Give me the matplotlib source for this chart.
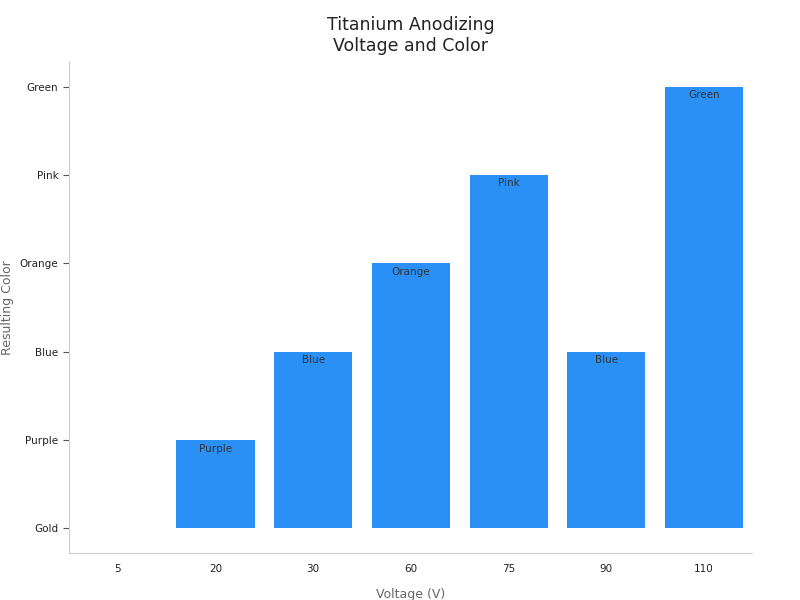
import matplotlib
matplotlib.use("Agg")
import matplotlib.pyplot as plt

voltages = ["5", "20", "30", "60", "75", "90", "110"]
color_levels = ["Gold", "Purple", "Blue", "Orange", "Pink", "Green"]
results = ["Gold", "Purple", "Blue", "Orange", "Pink", "Blue", "Green"]
values = [color_levels.index(r) for r in results]

fig, ax = plt.subplots(figsize=(8, 6), dpi=100)
fig.subplots_adjust(left=0.086, right=0.94, top=0.897, bottom=0.078)
x = list(range(len(voltages)))
bars = ax.bar(x, values, width=0.8, color="#2b90f5")
for xi, v, lab in zip(x, values, results):
    if v > 0:
        ax.text(xi, v - 0.04, lab, ha="center", va="top", fontsize=7.5, color="#333333")
ax.set_xticks(x)
ax.set_xticklabels(voltages, fontsize=7.5, color="#222222")
ax.set_yticks(range(len(color_levels)))
ax.set_yticklabels(color_levels, fontsize=7.5, color="#222222")
ax.set_xlim(-0.5, 6.49)
ax.set_ylim(-0.28, 5.28)
ax.set_xlabel("Voltage (V)", fontsize=9, color="#666666", labelpad=10)
ax.set_ylabel("Resulting Color", fontsize=9, color="#666666")
ax.set_title("Titanium Anodizing\nVoltage and Color", fontsize=12.5, color="#222222", pad=8)
for s in ["top", "right"]:
    ax.spines[s].set_visible(False)
for s in ["left", "bottom"]:
    ax.spines[s].set_color("#cccccc")
ax.tick_params(axis="x", length=0, pad=8)
ax.tick_params(axis="y", length=4, color="#555555")
fig.savefig("out.png")
